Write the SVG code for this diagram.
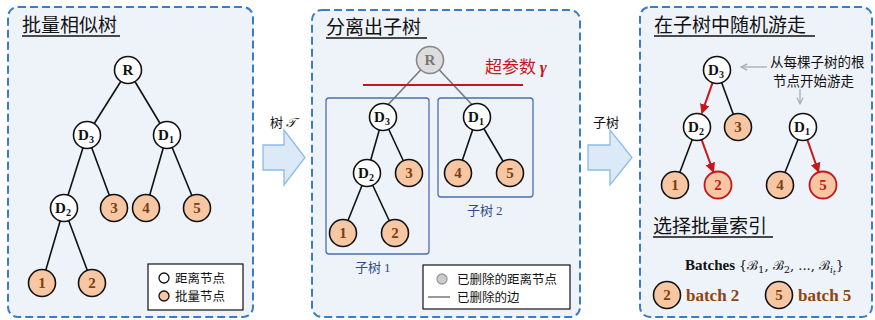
<svg xmlns="http://www.w3.org/2000/svg" width="875" height="320" viewBox="0 0 875 320">
<defs>
<style>
.panel{fill:#eef3fa;stroke:#3b7cc6;stroke-width:2;stroke-dasharray:8 4}
.title{font-family:"Noto Sans CJK SC",sans-serif;font-size:19px;fill:#111}
.ul{stroke:#111;stroke-width:1.3}
.edge{stroke:#111;stroke-width:1.6;fill:none}
.gedge{stroke:#777;stroke-width:1.6;fill:none}
.redge{stroke:#c8161d;stroke-width:2;fill:none;marker-end:url(#ra)}
.dn{fill:#fff;stroke:#111;stroke-width:1.6}
.bn{fill:#f7c6a3;stroke:#111;stroke-width:1.6}
.bnr{fill:#f7c6a3;stroke:#c8161d;stroke-width:1.8}
.gn{fill:#ddd;stroke:#888;stroke-width:1.6}
.dl{font-family:"Liberation Serif",serif;font-weight:bold;font-size:15px;fill:#111;text-anchor:middle}
.bl{font-family:"Liberation Serif",serif;font-weight:bold;font-size:15px;fill:#7b3f12;text-anchor:middle}
.gl{font-family:"Liberation Serif",serif;font-weight:bold;font-size:15px;fill:#777;text-anchor:middle}
.sub{font-size:10px}
.leg{font-family:"Noto Sans CJK SC",sans-serif;font-size:12.5px;fill:#111}
.sbox{fill:none;stroke:#4a6fb0;stroke-width:1.3}
.slab{font-family:"Noto Sans CJK SC",sans-serif;font-size:13px;fill:#2e4a8a}
.barrow{fill:#dce9f7;stroke:#8bbcec;stroke-width:1.3}
.alab{font-family:"Noto Sans CJK SC",sans-serif;font-size:13px;fill:#111}
.note{font-family:"Noto Sans CJK SC",sans-serif;font-size:13.5px;fill:#111}
.garrow{stroke:#aaa;stroke-width:1.3;fill:none;marker-end:url(#ga)}
.batch{font-family:"Liberation Serif",serif;font-weight:bold;font-size:17px;fill:#8b4513}
</style>
<marker id="ra" viewBox="0 0 10 10" refX="9" refY="5" markerWidth="5" markerHeight="5" orient="auto"><path d="M0,0 L10,5 L0,10 z" fill="#c8161d"/></marker>
<marker id="ga" viewBox="0 0 10 10" refX="9" refY="5" markerWidth="6" markerHeight="6" orient="auto"><path d="M1,1 L9,5 L1,9" fill="none" stroke="#aaa" stroke-width="1.5"/></marker>
</defs>

<!-- panels -->
<rect class="panel" x="8" y="7" width="245" height="310" rx="10"/>
<rect class="panel" x="312" y="10" width="268" height="307" rx="10"/>
<rect class="panel" x="640" y="7" width="232" height="310" rx="10"/>

<!-- titles -->
<text class="title" x="22" y="32">批量相似树</text>
<line class="ul" x1="22" y1="36" x2="120" y2="36"/>
<text class="title" x="326" y="34">分离出子树</text>
<line class="ul" x1="326" y1="38" x2="427" y2="38"/>
<text class="title" x="654" y="32">在子树中随机游走</text>
<line class="ul" x1="654" y1="36" x2="815" y2="36"/>
<text class="title" x="653" y="233">选择批量索引</text>
<line class="ul" x1="653" y1="237" x2="773" y2="237"/>

<!-- block arrows -->
<polygon class="barrow" points="263,145 284,145 284,130 305,157.5 284,185 284,170 263,170"/>
<text class="alab" x="270" y="127">树 <tspan font-family="DejaVu Serif,serif" font-style="italic">𝒯</tspan></text>
<polygon class="barrow" points="588,145 610,145 610,130 632,157.5 610,185 610,170 588,170"/>
<text class="alab" x="593" y="127">子树</text>

<!-- connectors -->
<g id="connectors">
<line class="edge" x1="128" y1="70" x2="87" y2="135"/>
<line class="edge" x1="128" y1="70" x2="167" y2="135"/>
<line class="edge" x1="87" y1="135" x2="64" y2="208"/>
<line class="edge" x1="87" y1="135" x2="114" y2="208"/>
<line class="edge" x1="167" y1="135" x2="146" y2="208"/>
<line class="edge" x1="167" y1="135" x2="197" y2="208"/>
<line class="edge" x1="64" y1="208" x2="42" y2="283"/>
<line class="edge" x1="64" y1="208" x2="92" y2="283"/>

<line class="gedge" x1="430" y1="60" x2="383" y2="110"/>
<line class="gedge" x1="430" y1="60" x2="477" y2="110"/>
<line class="edge" x1="383" y1="117" x2="367" y2="173"/>
<line class="edge" x1="383" y1="117" x2="409" y2="173"/>
<line class="edge" x1="477" y1="117" x2="458" y2="173"/>
<line class="edge" x1="477" y1="117" x2="510" y2="173"/>
<line class="edge" x1="367" y1="173" x2="343" y2="233"/>
<line class="edge" x1="367" y1="173" x2="395" y2="233"/>

<line class="edge" x1="717" y1="70" x2="738" y2="127"/>
<line class="edge" x1="697" y1="127" x2="675" y2="185"/>
<line class="edge" x1="803" y1="127" x2="780" y2="185"/>
<line class="redge" x1="712.7" y1="82.3" x2="701.8" y2="113.2"/>
<line class="redge" x1="701.4" y1="139.2" x2="713.4" y2="172"/>
<line class="redge" x1="807.2" y1="139.3" x2="818.6" y2="172"/>

<line class="garrow" x1="767" y1="67" x2="741" y2="67"/>
<line class="garrow" x1="800" y1="89" x2="800" y2="104"/>
</g>

<!-- red threshold line & label -->
<line x1="363" y1="85" x2="523" y2="85" stroke="#c8161d" stroke-width="2"/>
<text x="485" y="73" font-family="Noto Sans CJK SC,sans-serif" font-size="17" fill="#c8161d">超参数 <tspan font-family="Liberation Serif,serif" font-style="italic" font-weight="bold">γ</tspan></text>

<!-- subtree boxes -->
<rect class="sbox" x="326" y="98" width="103" height="156" rx="3"/>
<rect class="sbox" x="438" y="98" width="95" height="99" rx="3"/>
<text class="slab" x="355" y="272">子树 <tspan font-family="Liberation Serif,serif">1</tspan></text>
<text class="slab" x="467" y="215">子树 <tspan font-family="Liberation Serif,serif">2</tspan></text>

<!-- panel 1 nodes -->
<g id="p1-R"><circle class="dn" cx="128" cy="70" r="13.5"/><text class="dl" x="128" y="75">R</text></g>
<g id="p1-D3"><circle class="dn" cx="87" cy="135" r="13.5"/><text class="dl" x="86" y="140">D<tspan class="sub" dy="3">3</tspan></text></g>
<g id="p1-D1"><circle class="dn" cx="167" cy="135" r="13.5"/><text class="dl" x="166" y="140">D<tspan class="sub" dy="3">1</tspan></text></g>
<g id="p1-D2"><circle class="dn" cx="64" cy="208" r="13.5"/><text class="dl" x="63" y="213">D<tspan class="sub" dy="3">2</tspan></text></g>
<g id="p1-3"><circle class="bn" cx="114" cy="208" r="13.5"/><text class="bl" x="114" y="213">3</text></g>
<g id="p1-4"><circle class="bn" cx="146" cy="208" r="13.5"/><text class="bl" x="146" y="213">4</text></g>
<g id="p1-5"><circle class="bn" cx="197" cy="208" r="13.5"/><text class="bl" x="197" y="213">5</text></g>
<g id="p1-1"><circle class="bn" cx="42" cy="283" r="13.5"/><text class="bl" x="42" y="288">1</text></g>
<g id="p1-2"><circle class="bn" cx="92" cy="283" r="13.5"/><text class="bl" x="92" y="288">2</text></g>

<g id="legend1">
<rect x="148" y="264" width="95" height="46" fill="#fff" stroke="#111" stroke-width="1.2"/>
<circle cx="164" cy="278" r="5" fill="#fff" stroke="#111" stroke-width="1.3"/>
<text class="leg" x="175" y="283">距离节点</text>
<circle cx="164" cy="296" r="5" fill="#f7c6a3" stroke="#111" stroke-width="1.3"/>
<text class="leg" x="175" y="301">批量节点</text>
</g>

<!-- panel 2 nodes -->
<g id="p2-R"><circle class="gn" cx="430" cy="60" r="13.5"/><text class="gl" x="430" y="65">R</text></g>
<g id="p2-D3"><circle class="dn" cx="383" cy="117" r="13.5"/><text class="dl" x="382" y="122">D<tspan class="sub" dy="3">3</tspan></text></g>
<g id="p2-D1"><circle class="dn" cx="477" cy="117" r="13.5"/><text class="dl" x="476" y="122">D<tspan class="sub" dy="3">1</tspan></text></g>
<g id="p2-D2"><circle class="dn" cx="367" cy="173" r="13.5"/><text class="dl" x="366" y="178">D<tspan class="sub" dy="3">2</tspan></text></g>
<g id="p2-3"><circle class="bn" cx="409" cy="173" r="13.5"/><text class="bl" x="409" y="178">3</text></g>
<g id="p2-4"><circle class="bn" cx="458" cy="173" r="13.5"/><text class="bl" x="458" y="178">4</text></g>
<g id="p2-5"><circle class="bn" cx="510" cy="173" r="13.5"/><text class="bl" x="510" y="178">5</text></g>
<g id="p2-1"><circle class="bn" cx="343" cy="233" r="13.5"/><text class="bl" x="343" y="238">1</text></g>
<g id="p2-2"><circle class="bn" cx="395" cy="233" r="13.5"/><text class="bl" x="395" y="238">2</text></g>

<g id="legend2">
<rect x="423" y="265" width="147" height="44" fill="#fff" stroke="#111" stroke-width="1.2"/>
<circle cx="442" cy="279" r="5" fill="#ccc" stroke="#999" stroke-width="1.3"/>
<text class="leg" x="457" y="284">已删除的距离节点</text>
<line x1="428" y1="297" x2="450" y2="297" stroke="#777" stroke-width="1.5"/>
<text class="leg" x="457" y="302">已删除的边</text>
</g>

<!-- panel 3 nodes -->
<g id="p3-D3"><circle class="dn" cx="717" cy="70" r="13.5"/><text class="dl" x="716" y="75">D<tspan class="sub" dy="3">3</tspan></text></g>
<g id="p3-D2"><circle class="dn" cx="697" cy="127" r="13.5"/><text class="dl" x="696" y="132">D<tspan class="sub" dy="3">2</tspan></text></g>
<g id="p3-3"><circle class="bn" cx="738" cy="127" r="13.5"/><text class="bl" x="738" y="132">3</text></g>
<g id="p3-D1"><circle class="dn" cx="803" cy="127" r="13.5"/><text class="dl" x="802" y="132">D<tspan class="sub" dy="3">1</tspan></text></g>
<g id="p3-1"><circle class="bn" cx="675" cy="185" r="13.5"/><text class="bl" x="675" y="190">1</text></g>
<g id="p3-2"><circle class="bnr" cx="718" cy="185" r="13.5"/><text class="bl" x="718" y="190" style="fill:#c8161d">2</text></g>
<g id="p3-4"><circle class="bn" cx="780" cy="185" r="13.5"/><text class="bl" x="780" y="190">4</text></g>
<g id="p3-5"><circle class="bnr" cx="823" cy="185" r="13.5"/><text class="bl" x="823" y="190" style="fill:#c8161d">5</text></g>

<text class="note" x="770" y="67">从每棵子树的根</text>
<text class="note" x="773" y="86">节点开始游走</text>

<text x="685" y="270" font-family="Liberation Serif,serif" font-size="15" fill="#111"><tspan font-weight="bold">Batches</tspan> <tspan font-family="DejaVu Serif,serif" font-size="13">{ℬ<tspan font-size="10" dy="3">1</tspan><tspan dy="-3">, ℬ</tspan><tspan font-size="10" dy="3">2</tspan><tspan dy="-3">, ..., ℬ</tspan><tspan font-size="9" font-style="italic" dy="3">i</tspan><tspan font-size="7" font-style="italic" dy="2">t</tspan><tspan dy="-5">}</tspan></tspan></text>

<g id="batch2"><circle class="bn" cx="667" cy="295" r="13.5"/><text class="bl" x="667" y="300">2</text><text class="batch" x="686" y="301">batch 2</text></g>
<g id="batch5"><circle class="bn" cx="779" cy="295" r="13.5"/><text class="bl" x="779" y="300">5</text><text class="batch" x="798" y="301">batch 5</text></g>
</svg>
